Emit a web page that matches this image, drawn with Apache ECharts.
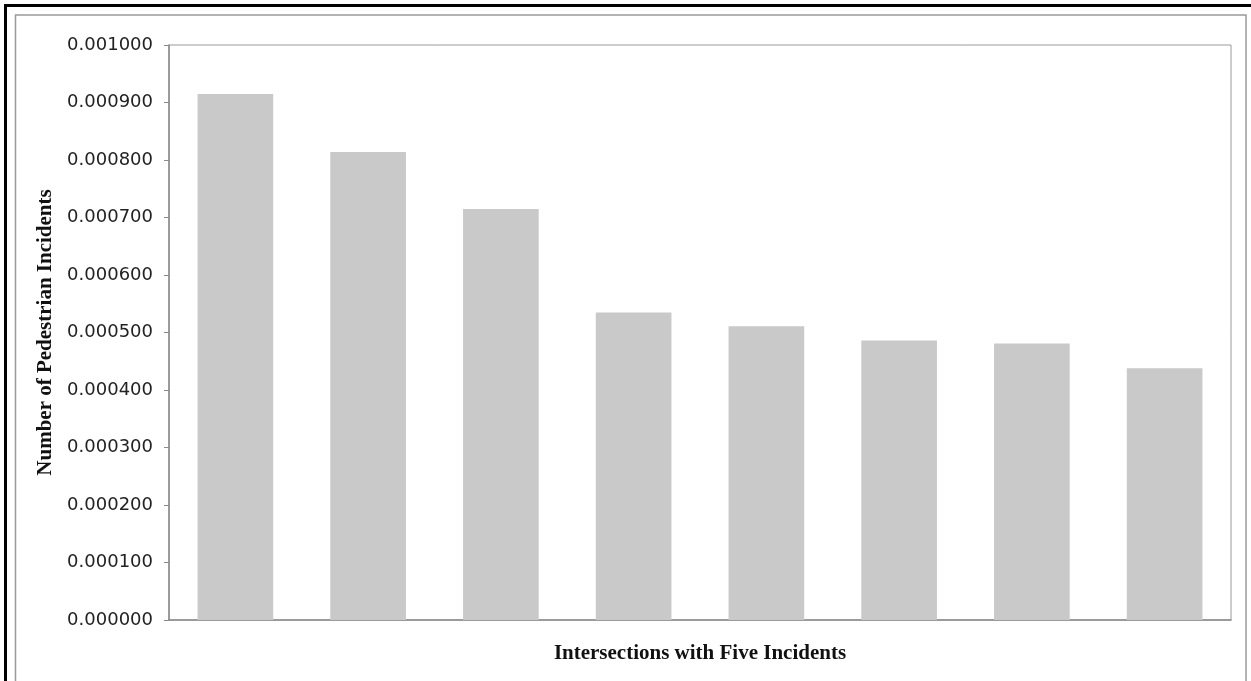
<!DOCTYPE html>
<html>
<head>
<meta charset="utf-8">
<script src="https://cdn.jsdelivr.net/npm/echarts@6/dist/echarts.min.js"></script>
<style>
  html, body { margin: 0; padding: 0; background: #fff; }
  #chart { width: 1251px; height: 681px; }
</style>
</head>
<body>
<div id="chart"></div>
<script>
// Pedestrian incident rates for intersections that recorded five incidents
const categories = ['1', '2', '3', '4', '5', '6', '7', '8'];
const incidentRates = [0.000915, 0.000814, 0.000715, 0.000535, 0.000511, 0.000486, 0.000481, 0.000438];
const yMin = 0;
const yMax = 0.001;
const yStep = 0.0001;

const chart = echarts.init(document.getElementById('chart'), null, { renderer: 'canvas' });

chart.setOption({
  backgroundColor: '#ffffff',
  animation: false,
  graphic: [
    {
      type: 'rect',
      silent: true,
      shape: { x: 5.5, y: 5.5, width: 1400, height: 1000 },
      style: { fill: 'none', stroke: '#000000', lineWidth: 3 }
    },
    {
      type: 'rect',
      silent: true,
      shape: { x: 15.5, y: 15, width: 1230.5, height: 1000 },
      style: { fill: 'none', stroke: '#9a9a9a', lineWidth: 1.5 }
    }
  ],
  grid: {
    left: 169,
    top: 45,
    right: 20,
    bottom: 61,
    show: true,
    borderColor: '#9a9a9a',
    borderWidth: 1,
    containLabel: false
  },
  xAxis: {
    type: 'category',
    data: categories,
    name: 'Intersections with Five Incidents',
    nameLocation: 'middle',
    nameGap: 23,
    nameTextStyle: {
      fontFamily: 'Liberation Serif',
      fontWeight: 'bold',
      fontSize: 21,
      color: '#111111'
    },
    axisLine: { show: true, lineStyle: { color: '#8a8a8a', width: 1.5 } },
    axisTick: { show: false },
    axisLabel: { show: false },
    splitLine: { show: false }
  },
  yAxis: {
    type: 'value',
    min: yMin,
    max: yMax,
    interval: yStep,
    name: 'Number of Pedestrian Incidents',
    nameLocation: 'middle',
    nameGap: 113,
    nameTextStyle: {
      fontFamily: 'Liberation Serif',
      fontWeight: 'bold',
      fontSize: 21,
      color: '#111111'
    },
    axisLine: { show: true, lineStyle: { color: '#8a8a8a', width: 1.5 } },
    axisTick: { show: true, inside: false, length: 5, lineStyle: { color: '#8a8a8a' } },
    axisLabel: {
      margin: 16,
      fontFamily: 'DejaVu Sans',
      fontSize: 18,
      color: '#222222',
      formatter: function (v) { return v.toFixed(6); }
    },
    splitLine: { show: false }
  },
  series: [
    {
      type: 'bar',
      data: incidentRates,
      barWidth: '57%',
      itemStyle: { color: '#c9c9c9' }
    }
  ]
});
</script>
</body>
</html>
